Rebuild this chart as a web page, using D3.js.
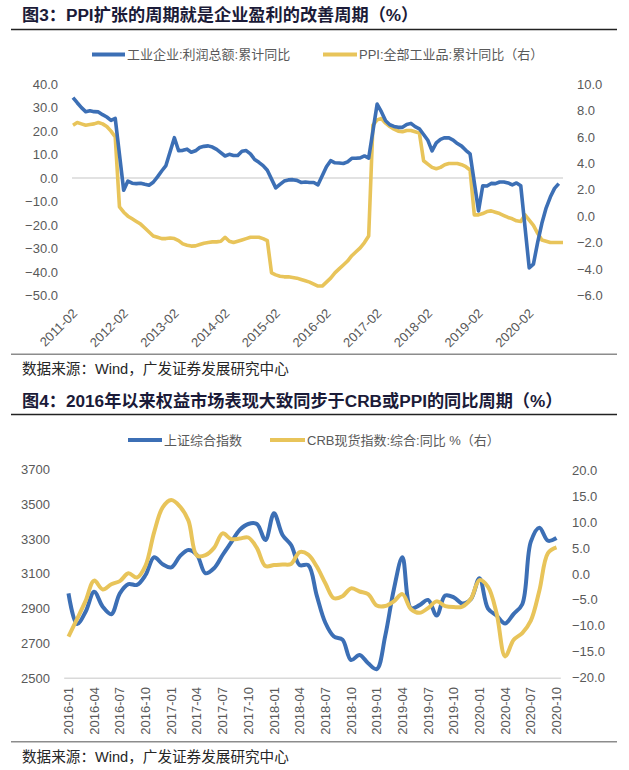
<!DOCTYPE html>
<html><head><meta charset="utf-8">
<script src="https://cdn.jsdelivr.net/npm/d3@7"></script>
<style>body{margin:0;background:#fff}svg{display:block}</style>
</head><body>
<svg id="c" width="629" height="770"></svg>
<script>
// ---------------- DATA: Figure 3 ----------------
const months1 = d3.timeMonth.range(new Date(2011, 1, 1), new Date(2020, 10, 1)).map(d3.timeFormat("%Y-%m"));
// 工业企业:利润总额:累计同比 (left axis), null = no January release
const profitYoY = [
  34.3, 32.1, 30.0, 28.3, 28.7, 28.3, 28.2, 27.0, 26.0, 24.6, 25.4,
  null, -5.2, -1.3, -2.2, -2.4, -2.2, -2.7, -3.1, -1.8, 0.5, 3.0, 5.3,
  null, 17.2, 11.6, 11.8, 12.3, 11.0, 11.6, 13.0, 13.5, 13.7, 13.2, 12.2,
  null, 9.4, 10.1, 9.6, 9.6, 11.4, 11.7, 10.3, 7.9, 6.7, 5.3, 3.3,
  null, -4.2, -2.7, -1.3, -0.8, -0.7, -1.0, -1.9, -1.7, -1.9, -1.9, -2.9,
  null, 4.8, 7.4, 6.5, 6.4, 6.2, 6.9, 8.4, 8.4, 8.6, 9.4, 8.5,
  null, 31.5, 28.3, 24.4, 22.7, 22.0, 21.6, 21.6, 22.8, 23.3, 21.9, 21.0,
  null, 16.1, 11.6, 15.0, 16.5, 17.2, 17.1, 16.2, 14.7, 13.6, 11.8, 10.3,
  null, -14.0, -3.3, -3.4, -2.3, -2.4, -1.7, -1.7, -2.1, -2.9, -2.1, -3.3,
  null, -38.3, -36.7, -27.4, -19.3, -12.8, -8.1, -4.4, -2.4, null
];
// PPI:全部工业品:累计同比 (right axis)
const ppiYoY = [
  6.9, 7.1, 7.0, 6.9, 6.95, 7.0, 7.1, 7.0, 6.8, 6.45, 6.0,
  0.7, 0.3, 0.0, -0.2, -0.4, -0.6, -0.9, -1.2, -1.5, -1.6, -1.7, -1.7,
  -1.65, -1.7, -1.85, -2.1, -2.2, -2.27, -2.25, -2.15, -2.05, -2.0, -1.95, -1.95, -1.9,
  -1.6, -1.9, -2.0, -1.9, -1.8, -1.7, -1.6, -1.6, -1.6, -1.7, -1.85,
  -4.3, -4.45, -4.55, -4.6, -4.6, -4.65, -4.7, -4.8, -4.9, -5.0, -5.15, -5.3,
  -5.3, -5.0, -4.7, -4.3, -4.0, -3.7, -3.4, -3.0, -2.7, -2.4, -2.0, -1.5,
  6.9, 7.3, 7.4, 7.05, 6.8, 6.6, 6.45, 6.4, 6.5, 6.5, 6.4, 6.3,
  4.2, 3.95, 3.7, 3.6, 3.7, 3.9, 4.0, 4.0, 4.0, 3.9, 3.75, 3.5,
  0.1, 0.1, 0.2, 0.35, 0.4, 0.3, 0.2, 0.05, -0.1, -0.2, -0.35, -0.4,
  0.1, -0.3, -0.7, -1.3, -1.8, -1.9, -2.0, -2.0, -2.0, -2.0
];
const ticks1X = ["2011-02","2012-02","2013-02","2014-02","2015-02","2016-02","2017-02","2018-02","2019-02","2020-02"];
const ticks1L = [40, 30, 20, 10, 0, -10, -20, -30, -40, -50];
const ticks1R = [10, 8, 6, 4, 2, 0, -2, -4, -6];

// ---------------- DATA: Figure 4 ----------------
const months2 = d3.timeMonth.range(new Date(2016, 0, 1), new Date(2020, 10, 1)).map(d3.timeFormat("%Y-%m"));
// 上证综合指数 (left axis)
const sseIndex = [
  2988, 2812, 2882, 2997, 2911, 2868, 2988, 3041, 3036, 3093, 3195, 3155,
  3137, 3200, 3237, 3208, 3103, 3132, 3208, 3280, 3352, 3386, 3386, 3294,
  3447, 3323, 3265, 3150, 3150, 2975, 2819, 2740, 2722, 2605, 2634, 2586,
  2553, 2745, 3010, 3195, 2902, 2920, 2950, 2860, 2975, 2965, 2930, 2955,
  3075, 2900, 2860, 2815, 2870, 2925, 3285, 3365, 3290, 3305
];
// CRB现货指数:综合:同比 % (right axis)
const crbYoY = [
  -12.1, -8.7, -5.2, -1.3, -3.0, -2.0, -1.4, 0.1, -0.7, 1.6, 8.0, 12.8,
  14.2, 13.0, 10.3, 3.5, 3.6, 5.0, 7.8, 6.7, 6.8, 7.0, 5.0, 1.5,
  1.7, 1.8, 1.9, 4.2, 3.7, 1.4, -1.8, -4.7, -4.3, -2.8, -3.4, -3.9,
  -6.1, -6.2, -5.3, -3.9, -6.8, -7.5, -6.6, -5.3, -6.2, -6.4, -6.3, -4.8,
  -1.2, -2.5, -7.6, -15.9, -12.7, -11.4, -9.0, -3.2, 4.0, 5.1
];
const ticks2X = ["2016-01","2016-04","2016-07","2016-10","2017-01","2017-04","2017-07","2017-10","2018-01","2018-04","2018-07","2018-10","2019-01","2019-04","2019-07","2019-10","2020-01","2020-04","2020-07","2020-10"];
const ticks2L = [3700, 3500, 3300, 3100, 2900, 2700, 2500];
const ticks2R = [20, 15, 10, 5, 0, -5, -10, -15, -20];

// ---------------- STYLE ----------------
const BLUE = "#3c6fb5", GOLD = "#e8c45a";
const FONT = "'Liberation Sans', Arial, 'Noto Sans CJK SC', sans-serif";
const TXT = "#595959";

const svg = d3.select("#c").style("font-family", FONT);
svg.append("rect").attr("width", 629).attr("height", 770).attr("fill", "#fff");

function title(y, t) {
  svg.append("text").attr("x", 22).attr("y", y).attr("font-size", 17.2).attr("font-weight", "bold")
    .attr("fill", "#1b1b38").text(t);
}
function rule(y, color, w) {
  svg.append("line").attr("x1", 11).attr("x2", 617).attr("y1", y).attr("y2", y)
    .attr("stroke", color).attr("stroke-width", w);
}
function source(y) {
  svg.append("text").attr("x", 22).attr("y", y).attr("dy", "0.35em").attr("font-size", 14.6)
    .attr("fill", "#262626").text("数据来源：Wind，广发证券发展研究中心");
}
function legendItem(x1, x2, y, color, label) {
  svg.append("line").attr("x1", x1).attr("x2", x2).attr("y1", y).attr("y2", y)
    .attr("stroke", color).attr("stroke-width", 4);
  svg.append("text").attr("x", x2 + 2).attr("y", y).attr("dy", "0.35em").attr("font-size", 13)
    .attr("fill", TXT).text(label);
}
function styleAxis(g) {
  g.select(".domain").remove();
  g.selectAll("text").attr("fill", TXT).attr("font-size", 13).attr("font-family", FONT);
}

// ================= FIGURE 3 =================
title(21, "图3：PPI扩张的周期就是企业盈利的改善周期（%）");
rule(29.5, "#222", 1.5);
legendItem(92, 125, 54.5, BLUE, "工业企业:利润总额:累计同比");
legendItem(323, 357, 54.5, GOLD, "PPI:全部工业品:累计同比（右）");

const x1 = d3.scalePoint().domain(months1).range([73, 563]);
const y1L = d3.scaleLinear().domain([-50, 40]).range([295.3, 84.2]);
const y1R = d3.scaleLinear().domain([-6, 10]).range([295.3, 84.3]);

svg.append("line").attr("x1", 72).attr("x2", 563).attr("y1", y1L(0)).attr("y2", y1L(0))
  .attr("stroke", "#d9d9d9").attr("stroke-width", 1.5);

svg.append("g").attr("transform", "translate(58,0)")
  .call(d3.axisLeft(y1L).tickValues(ticks1L).tickFormat(d3.format(".1f")).tickSize(0).tickPadding(0))
  .call(styleAxis);
svg.append("g").attr("transform", "translate(577,0)")
  .call(d3.axisRight(y1R).tickValues(ticks1R).tickFormat(d3.format(".1f")).tickSize(0).tickPadding(0))
  .call(styleAxis);

svg.append("g").selectAll("text").data(ticks1X).join("text")
  .attr("transform", d => `translate(${x1(d) + 2},311) rotate(-45)`)
  .attr("text-anchor", "end").attr("dy", "0.35em")
  .attr("font-size", 13).attr("fill", TXT).text(d => d);

const data1P = months1.map((m, i) => ({ m, v: profitYoY[i] })).filter(d => d.v != null);
const data1Q = months1.map((m, i) => ({ m, v: ppiYoY[i] })).filter(d => d.v != null);

svg.append("path").datum(data1Q)
  .attr("d", d3.line().x(d => x1(d.m)).y(d => y1R(d.v)))
  .attr("fill", "none").attr("stroke", GOLD).attr("stroke-width", 3.6).attr("stroke-linejoin", "round");
svg.append("path").datum(data1P)
  .attr("d", d3.line().x(d => x1(d.m)).y(d => y1L(d.v)))
  .attr("fill", "none").attr("stroke", BLUE).attr("stroke-width", 3.6).attr("stroke-linejoin", "round");

rule(354.3, "#8c8c8c", 1.5);
source(369);

// ================= FIGURE 4 =================
title(406.5, "图4：2016年以来权益市场表现大致同步于CRB或PPI的同比周期（%）");
rule(414.5, "#222", 1.5);
legendItem(128, 162, 440, BLUE, "上证综合指数");
legendItem(270, 305, 440, GOLD, "CRB现货指数:综合:同比 %（右）");

const x2 = d3.scalePoint().domain(months2).range([64.2, 560.8]).padding(0.5);
const y2L = d3.scaleLinear().domain([2500, 3700]).range([678.3, 469.3]);
const y2R = d3.scaleLinear().domain([-20, 20]).range([677.7, 470]);

svg.append("line").attr("x1", x2.range()[0]).attr("x2", x2.range()[1])
  .attr("y1", y2L(2500)).attr("y2", y2L(2500))
  .attr("stroke", "#d9d9d9").attr("stroke-width", 1.5);

svg.append("g").attr("transform", "translate(50,0)")
  .call(d3.axisLeft(y2L).tickValues(ticks2L).tickFormat(d3.format("d")).tickSize(0).tickPadding(0))
  .call(styleAxis);
svg.append("g").attr("transform", "translate(572,0)")
  .call(d3.axisRight(y2R).tickValues(ticks2R).tickFormat(d3.format(".1f")).tickSize(0).tickPadding(0))
  .call(styleAxis);

svg.append("g").selectAll("text").data(ticks2X).join("text")
  .attr("transform", d => `translate(${x2(d)},687) rotate(-90)`)
  .attr("text-anchor", "end").attr("dy", "0.35em")
  .attr("font-size", 13).attr("fill", TXT).text(d => d);

const data2S = months2.map((m, i) => ({ m, v: sseIndex[i] }));
const data2C = months2.map((m, i) => ({ m, v: crbYoY[i] }));
const smooth = d3.curveCatmullRom.alpha(0.5);

svg.append("path").datum(data2S)
  .attr("d", d3.line().curve(smooth).x(d => x2(d.m)).y(d => y2L(d.v)))
  .attr("fill", "none").attr("stroke", BLUE).attr("stroke-width", 4).attr("stroke-linejoin", "round");
svg.append("path").datum(data2C)
  .attr("d", d3.line().curve(smooth).x(d => x2(d.m)).y(d => y2R(d.v)))
  .attr("fill", "none").attr("stroke", GOLD).attr("stroke-width", 4).attr("stroke-linejoin", "round");

rule(741.7, "#8c8c8c", 1.5);
source(757.3);
</script>
</body></html>
